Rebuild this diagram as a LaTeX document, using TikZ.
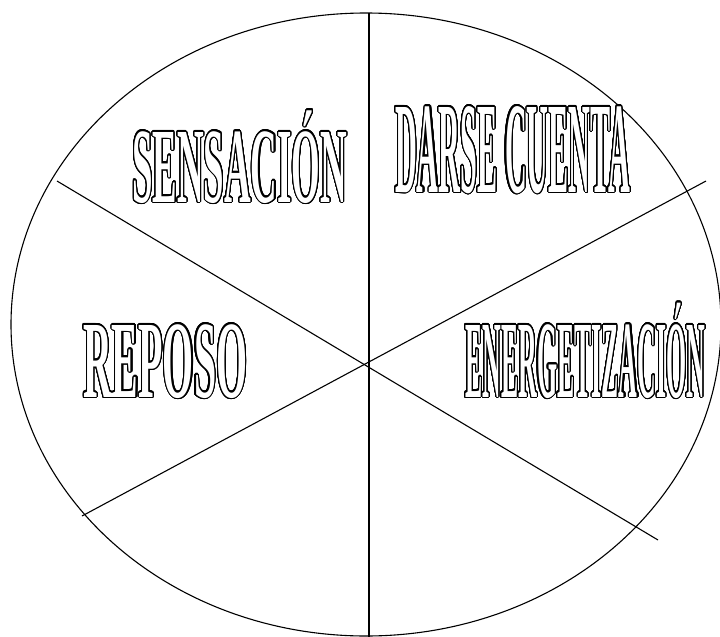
\documentclass[tikz,border=0pt]{standalone}
\usepackage{fontspec}
\setmainfont{Liberation Serif}
\usepackage{graphicx}
\usepackage{contour}
\contourlength{1.1pt}
\contournumber{32}
\newcommand\wordbox[3]{\resizebox{#1}{#2}{\bfseries\fontsize{60}{60}\selectfont\vphantom{E}\smash{#3}}}

\begin{document}
\begin{tikzpicture}[x=1pt,y=-1pt,
  line/.style={line width=1.1pt},
  lbl/.style={inner sep=0pt,anchor=base west,text=white}
]
  \useasboundingbox (0,0) rectangle (720,637);
  \draw[line] (366,324.5) ellipse [x radius=355, y radius=311.5];
  \coordinate (top) at (369,13);
  \coordinate (bot) at (369,637);
  \coordinate (ul) at (57,181);
  \coordinate (lr) at (658,540);
  \coordinate (ur) at (706,181);
  \coordinate (ll) at (82,516);
  \draw[line] (top) -- (bot);
  \draw[line] (ul) -- (lr);
  \draw[line] (ur) -- (ll);
  \node[lbl] (sensacion) at (132,202) {\contour{black}{\wordbox{215pt}{70pt}{SENSACIÓN}}};
  \node[lbl] (darse) at (395,192) {\contour{black}{\wordbox{235pt}{85pt}{DARSE CUENTA}}};
  \node[lbl] (reposo) at (83,397) {\contour{black}{\wordbox{164pt}{72pt}{REPOSO}}};
  \node[lbl] (energia) at (465,397) {\contour{black}{\wordbox{240pt}{72pt}{ENERGETIZACIÓN}}};
\end{tikzpicture}
\end{document}
